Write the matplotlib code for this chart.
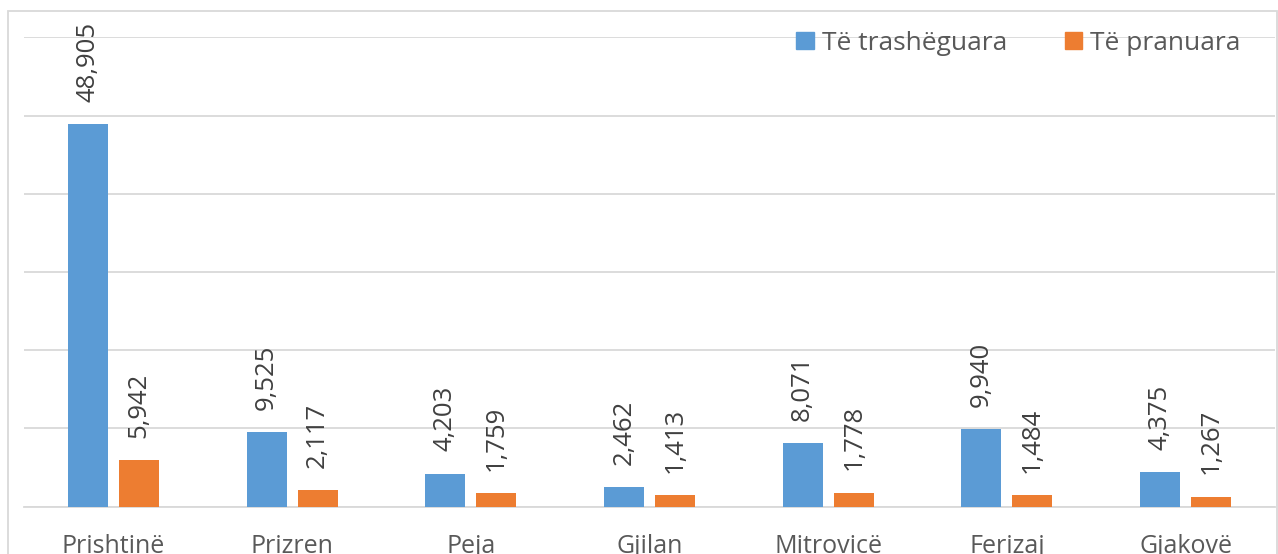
import numpy as np
import matplotlib
matplotlib.use('Agg')
import matplotlib.pyplot as plt
import matplotlib.patches as mpatches

plt.rcParams['font.family'] = ['Open Sans', 'DejaVu Sans']

# ─── DATA ─────────────────────────────────────────────────────────────────
regions    = ["Prishtinë", "Prizren", "Peja", "Gjilan", "Mitrovicë", "Ferizaj", "Gjakovë"]
inherited  = [48905, 9525, 4203, 2462, 8071, 9940, 4375]
accepted   = [5942, 2117, 1759, 1413, 1778, 1484, 1267]
series     = ["Të trashëguara", "Të pranuara"]

BLUE   = "#5b9bd5"
ORANGE = "#ed7d31"
GRID   = "#d9d9d9"
TXT    = "#595959"
LBL    = "#404040"

W, H = 1278, 554
fig = plt.figure(figsize=(W / 100, H / 100), dpi=100, facecolor='white')

# chart frame (light border around the chart area)
frame = mpatches.Rectangle((8 / W, -0.1), (1277 - 8) / W, 1.1 - 11 / H,
                           transform=fig.transFigure, fill=False,
                           edgecolor=GRID, linewidth=1.3, zorder=0)
fig.patches.append(frame)

ax = fig.add_axes([24 / W, (H - 506.5) / H, (1275 - 24) / W, (506.5 - 37.3) / H])

x = np.arange(len(regions))
bw = 0.224
off = 0.1428
b1 = ax.bar(x - off, inherited, bw, color=BLUE, zorder=3)
b2 = ax.bar(x + off, accepted, bw, color=ORANGE, zorder=3)

for bars, vals in ((b1, inherited), (b2, accepted)):
    for rect, v in zip(bars, vals):
        ax.annotate(f"{v:,}", (rect.get_x() + rect.get_width() / 2, v),
                    xytext=(0, 16), textcoords='offset points',
                    rotation=90, ha='center', va='bottom',
                    fontsize=18.5, color=LBL)

ax.set_xlim(-0.5, len(regions) - 0.5)
ax.set_ylim(0, 60000)
ax.set_yticks(np.arange(0, 60001, 10000))
ax.yaxis.grid(True, color=GRID, linewidth=1.3, zorder=0)
ax.tick_params(axis='y', left=False, labelleft=False)
ax.set_xticks(x)
ax.set_xticklabels(regions, fontsize=18, color=TXT)
ax.tick_params(axis='x', length=0, pad=20)
for s in ['top', 'right', 'left']:
    ax.spines[s].set_visible(False)
ax.spines['bottom'].set_color(GRID)
ax.spines['bottom'].set_linewidth(1.3)

handles = [mpatches.Patch(color=BLUE, label=series[0]),
           mpatches.Patch(color=ORANGE, label=series[1])]
leg = ax.legend(handles=handles, loc='upper right', bbox_to_anchor=(0.987, 1.053),
                ncol=2, frameon=False, fontsize=19, handlelength=0.65,
                handleheight=0.65, handletextpad=0.3, columnspacing=2.2,
                labelcolor=TXT, borderpad=0.2)

fig.savefig('out.png', dpi=100, facecolor='white')
